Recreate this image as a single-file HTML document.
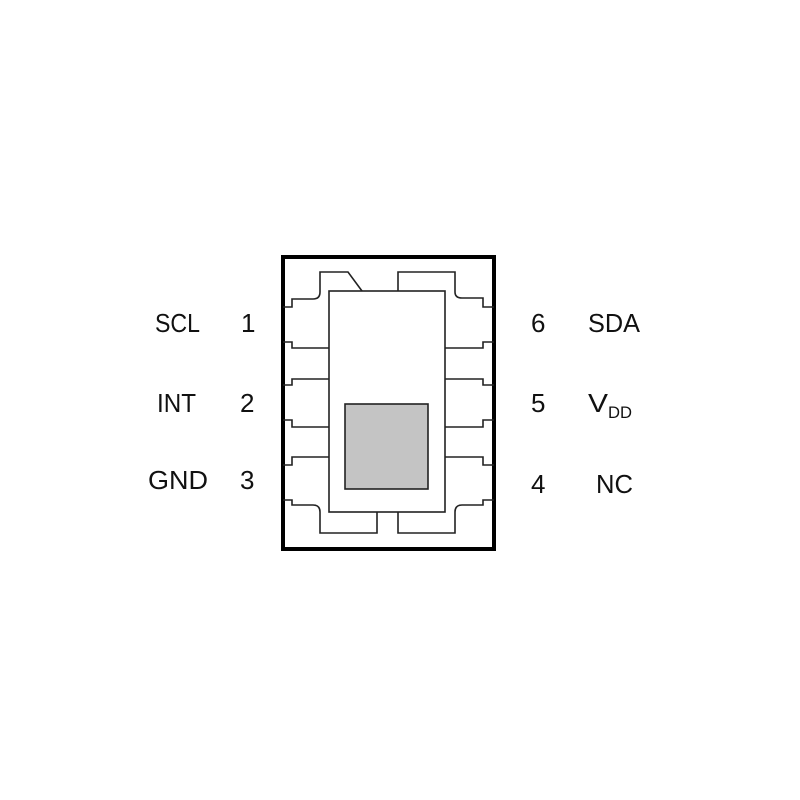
<!DOCTYPE html>
<html><head><meta charset="utf-8"><style>html,body{margin:0;padding:0;background:#fff}svg{display:block}</style></head>
<body>
<svg width="800" height="800" viewBox="0 0 800 800" xmlns="http://www.w3.org/2000/svg">
<rect width="800" height="800" fill="#fff"/>
<rect x="283" y="257" width="211" height="292" fill="none" stroke="#000" stroke-width="4"/>
<g fill="none" stroke="#222" stroke-width="1.6">
<rect x="329" y="291" width="116" height="221"/>
<rect x="345" y="404" width="83" height="85" fill="#c4c4c4"/>
<!-- top-left -->
<path d="M283 307 H292 V299 H313 Q320 299 320 292 V272 H348 L362 291"/>
<!-- top-right -->
<path d="M398 291 V272 H455 V292 Q455 298 462 298 H483 V307 H494"/>
<!-- left pins -->
<path d="M283 342 H292 V348 H329"/>
<path d="M329 379 H292 V385 H283"/>
<path d="M283 420 H292 V427 H329"/>
<path d="M329 457 H292 V465 H283"/>
<!-- right pins -->
<path d="M494 342 H483 V348 H445"/>
<path d="M445 379 H483 V385 H494"/>
<path d="M494 420 H483 V427 H445"/>
<path d="M445 457 H483 V465 H494"/>
<!-- bottom-left -->
<path d="M283 500 H292 V505 H313 Q320 505 320 512 V533 H377 V512"/>
<!-- bottom-right -->
<path d="M398 512 V533 H455 V512 Q455 505 462 505 H483 V500 H494"/>
</g>
<g font-family="Liberation Sans, sans-serif" font-size="26" fill="#111">
<text x="155" y="332" textLength="45" lengthAdjust="spacingAndGlyphs">SCL</text>
<text x="241" y="332">1</text>
<text x="157" y="412" textLength="39" lengthAdjust="spacingAndGlyphs">INT</text>
<text x="240" y="412">2</text>
<text x="148" y="489" textLength="60" lengthAdjust="spacingAndGlyphs">GND</text>
<text x="240" y="489">3</text>
<text x="531" y="332">6</text>
<text x="588" y="332" textLength="52" lengthAdjust="spacingAndGlyphs">SDA</text>
<text x="531" y="412">5</text>
<text x="588" y="412" textLength="20" lengthAdjust="spacingAndGlyphs">V</text>
<text x="608" y="418" font-size="17" textLength="24" lengthAdjust="spacingAndGlyphs">DD</text>
<text x="531" y="493">4</text>
<text x="596" y="493" textLength="37" lengthAdjust="spacingAndGlyphs">NC</text>
</g>
</svg>
</body></html>
